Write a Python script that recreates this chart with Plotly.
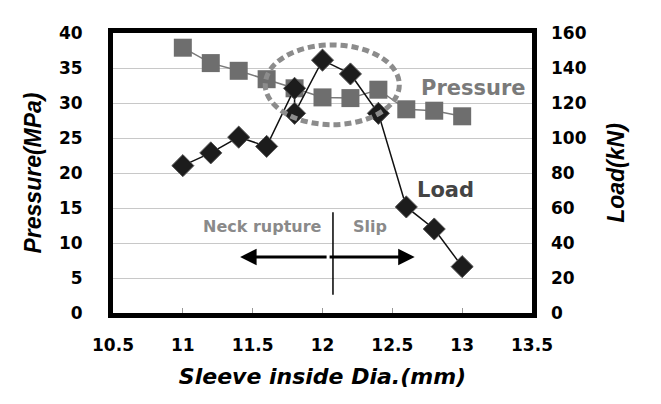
import plotly.graph_objects as go

dia_p = [11.0, 11.2, 11.4, 11.6, 11.8, 12.0, 12.2, 12.4, 12.6, 12.8, 13.0]
pressure = [37.9, 35.7, 34.6, 33.4, 32.1, 30.8, 30.7, 31.9, 29.1, 28.9, 28.1]

dia_l = [11.0, 11.2, 11.4, 11.6, 11.8, 11.8, 12.0, 12.2, 12.4, 12.6, 12.8, 13.0]
load = [84.2, 91.5, 100.5, 95.2, 128.4, 114.1, 144.5, 136.6, 114.1, 60.6, 48.0, 26.5]

x_ticks = [10.5, 11, 11.5, 12, 12.5, 13, 13.5]
p_ticks = [0, 5, 10, 15, 20, 25, 30, 35, 40]
l_ticks = [0, 20, 40, 60, 80, 100, 120, 140, 160]

FONT = "Liberation Sans"
WIDE = "DejaVu Sans"
tickfont = dict(family=WIDE, size=17, color="black", weight="bold")
titlefont = dict(family=FONT, size=23, color="black", weight="bold", style="italic")
xtitlefont = dict(family=WIDE, size=22, color="black", weight="bold", style="italic")

fig = go.Figure()
fig.add_trace(go.Scatter(
    x=dia_p, y=pressure, mode="lines+markers", yaxis="y",
    line=dict(color="#7a7a7a", width=1.5),
    marker=dict(symbol="square", size=18, color="#6e6e6e"),
    showlegend=False))
fig.add_trace(go.Scatter(
    x=dia_l, y=load, mode="lines+markers", yaxis="y2",
    line=dict(color="#111111", width=1.5),
    marker=dict(symbol="diamond", size=17, color="#1c1c1c",
                line=dict(color="#555555", width=1)),
    showlegend=False))

fig.update_layout(
    width=661, height=404,
    margin=dict(l=113, r=129, t=33, b=91),
    paper_bgcolor="white", plot_bgcolor="white",
    xaxis=dict(range=[10.5, 13.5], tickvals=x_ticks, ticktext=[str(v) for v in x_ticks],
               tickfont=tickfont, showgrid=False, zeroline=False,
               showline=True, linecolor="black", linewidth=5, mirror=True,
               ticks="inside", ticklen=5, tickcolor="#999999", ticklabelstandoff=13,
               title=dict(text="Sleeve inside Dia.(mm)", font=xtitlefont, standoff=16)),
    yaxis=dict(range=[0, 40], tickvals=p_ticks, tickfont=tickfont,
               showgrid=True, gridcolor="#c8c8c8", gridwidth=1, zeroline=False,
               showline=True, linecolor="black", linewidth=5, mirror=True,
               ticks="", ticklabelstandoff=22,
               title=dict(text="Pressure(MPa)", font=titlefont, standoff=12)),
    yaxis2=dict(range=[0, 160], tickvals=l_ticks, tickfont=tickfont,
                overlaying="y", side="right", showgrid=False, zeroline=False,
                showline=False, ticks="", ticklabelstandoff=18,
                title=dict(text="Load(kN)", font=titlefont, standoff=22)),
)

# dotted ellipse around the peak
fig.add_shape(type="circle", xref="x", yref="y", x0=11.59, x1=12.55, y0=26.9, y1=38.3,
              line=dict(color="#8c8c8c", width=5, dash="7px,4px"), layer="above")

# vertical divider
fig.add_shape(type="line", xref="x", yref="y", x0=12.075, x1=12.075, y0=2.6, y1=14.4,
              line=dict(color="black", width=1.5))

# arrows
for tip in (11.41, 12.66):
    fig.add_annotation(x=tip, y=8.0, ax=12.04, ay=8.0, xref="x", yref="y",
                       axref="x", ayref="y", text="", showarrow=True,
                       arrowhead=2, arrowsize=1.1, arrowwidth=3, arrowcolor="black",
                       standoff=0, startstandoff=0)

annot_font = dict(family=WIDE, weight="bold")
fig.add_annotation(x=11.57, y=12.4, xref="x", yref="y", text="Neck rupture", showarrow=False,
                   font=dict(size=16, color="#8a8a8a", **annot_font))
fig.add_annotation(x=12.34, y=12.4, xref="x", yref="y", text="Slip", showarrow=False,
                   font=dict(size=16, color="#8a8a8a", **annot_font))
fig.add_annotation(x=13.08, y=32.1, xref="x", yref="y", text="Pressure", showarrow=False,
                   font=dict(size=21, color="#7a7a7a", **annot_font))
fig.add_annotation(x=12.88, y=17.6, xref="x", yref="y", text="Load", showarrow=False,
                   font=dict(size=21, color="#444444", **annot_font))

fig.write_html("out.html")
